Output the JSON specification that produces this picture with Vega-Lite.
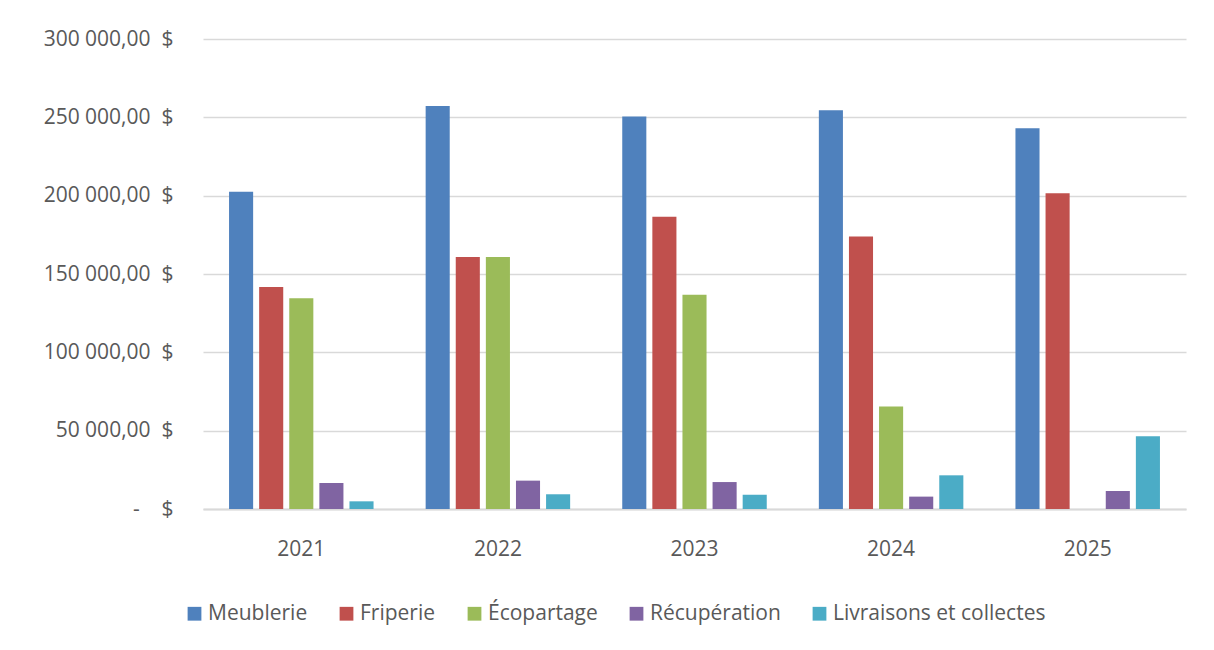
{
  "$schema": "https://vega.github.io/schema/vega-lite/v6.json",
  "width": 983,
  "height": 470,
  "autosize": {"type": "none"},
  "padding": {"left": 203, "top": 39, "right": 28, "bottom": 141},
  "background": "white",
  "data": {
    "values": [
      {"annee": "2021", "categorie": "Meublerie", "montant": 202500},
      {"annee": "2021", "categorie": "Friperie", "montant": 141700},
      {"annee": "2021", "categorie": "Écopartage", "montant": 134500},
      {"annee": "2021", "categorie": "Récupération", "montant": 16600},
      {"annee": "2021", "categorie": "Livraisons et collectes", "montant": 4900},
      {"annee": "2022", "categorie": "Meublerie", "montant": 257200},
      {"annee": "2022", "categorie": "Friperie", "montant": 160800},
      {"annee": "2022", "categorie": "Écopartage", "montant": 160800},
      {"annee": "2022", "categorie": "Récupération", "montant": 18100},
      {"annee": "2022", "categorie": "Livraisons et collectes", "montant": 9400},
      {"annee": "2023", "categorie": "Meublerie", "montant": 250600},
      {"annee": "2023", "categorie": "Friperie", "montant": 186600},
      {"annee": "2023", "categorie": "Écopartage", "montant": 136800},
      {"annee": "2023", "categorie": "Récupération", "montant": 17200},
      {"annee": "2023", "categorie": "Livraisons et collectes", "montant": 9100},
      {"annee": "2024", "categorie": "Meublerie", "montant": 254500},
      {"annee": "2024", "categorie": "Friperie", "montant": 174000},
      {"annee": "2024", "categorie": "Écopartage", "montant": 65500},
      {"annee": "2024", "categorie": "Récupération", "montant": 7900},
      {"annee": "2024", "categorie": "Livraisons et collectes", "montant": 21500},
      {"annee": "2025", "categorie": "Meublerie", "montant": 243000},
      {"annee": "2025", "categorie": "Friperie", "montant": 201500},
      {"annee": "2025", "categorie": "Écopartage", "montant": 0},
      {"annee": "2025", "categorie": "Récupération", "montant": 11500},
      {"annee": "2025", "categorie": "Livraisons et collectes", "montant": 46400}
    ]
  },
  "mark": {"type": "bar"},
  "encoding": {
    "x": {
      "field": "annee",
      "type": "nominal",
      "scale": {"paddingInner": 0.265, "paddingOuter": 0.1325},
      "axis": {
        "title": null,
        "labelAngle": 0,
        "labelPadding": 29,
        "ticks": false,
        "grid": false,
        "domainColor": "#d9d9d9",
        "domainWidth": 2
      }
    },
    "xOffset": {
      "field": "categorie",
      "type": "nominal",
      "sort": ["Meublerie", "Friperie", "Écopartage", "Récupération", "Livraisons et collectes"],
      "scale": {"paddingInner": 0.2, "paddingOuter": 0}
    },
    "y": {
      "field": "montant",
      "type": "quantitative",
      "scale": {"domain": [0, 300000], "nice": false},
      "axis": {
        "title": null,
        "values": [0, 50000, 100000, 150000, 200000, 250000, 300000],
        "domain": false,
        "ticks": false,
        "labelPadding": 30,
        "gridColor": "#d9d9d9",
        "gridWidth": 1.5,
        "labelExpr": "datum.value === 0 ? '-\u00a0\u00a0\u00a0\u00a0$' : replace(replace(format(datum.value, ',.2f'), ',', '\u00a0'), '.', ',') + '\u00a0\u00a0$'"
      }
    },
    "color": {
      "field": "categorie",
      "type": "nominal",
      "sort": ["Meublerie", "Friperie", "Écopartage", "Récupération", "Livraisons et collectes"],
      "scale": {
        "domain": ["Meublerie", "Friperie", "Écopartage", "Récupération", "Livraisons et collectes"],
        "range": ["#4F81BD", "#C0504D", "#9BBB59", "#8064A2", "#4BACC6"]
      },
      "legend": {
        "title": null,
        "orient": "none",
        "legendX": -19,
        "legendY": 564,
        "direction": "horizontal",
        "symbolType": "square",
        "symbolSize": 190,
        "symbolStrokeWidth": 0,
        "labelFontSize": 21,
        "labelColor": "#595959",
        "labelFont": "Open Sans",
        "labelLimit": 400,
        "columnPadding": 28,
        "labelOffset": 3,
        "padding": 0
      }
    }
  },
  "config": {
    "font": "Open Sans",
    "axis": {"labelFont": "Open Sans", "labelFontSize": 21, "labelColor": "#595959"},
    "view": {"stroke": null}
  }
}
